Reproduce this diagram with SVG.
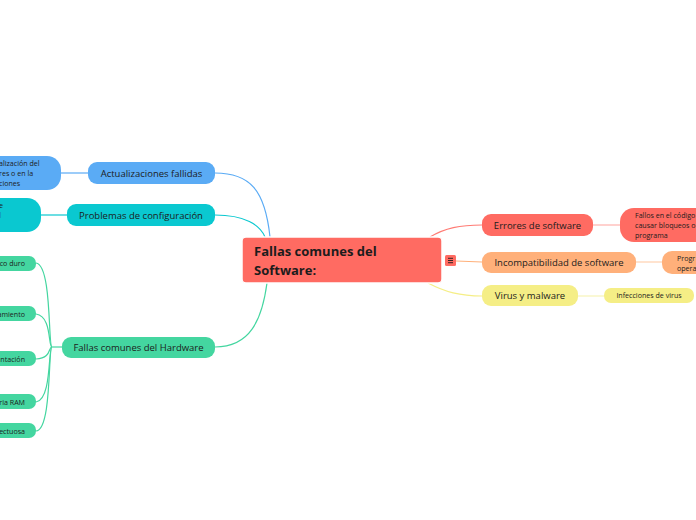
<svg xmlns="http://www.w3.org/2000/svg" width="696" height="520" viewBox="0 0 696 520">
<style>
text{font-family:"Open Sans","Noto Sans","Liberation Sans",sans-serif;fill:#1c1c1c}
.b{font-size:9.5px;text-anchor:middle}
.l{font-size:7.1px}
.lc{font-size:7.1px;text-anchor:middle}
.c{font-size:13px;font-weight:bold}
.cn{fill:none;stroke-width:1.2}
</style>
<rect width="696" height="520" fill="#ffffff"/>
<g id="connectors">
<path class="cn" stroke="#5aabf5" d="M215,173 C250,173 265,190 270,237"/>
<path class="cn" stroke="#0ac8d0" d="M215,215 C245,215 260,225 265,237"/>
<path class="cn" stroke="#44d6a0" d="M215,347 C250,347 262,320 267,283"/>
<path class="cn" stroke="#5aabf5" d="M61,173 L88,173"/>
<path class="cn" stroke="#0ac8d0" d="M41,215 L67,215"/>
<path class="cn" stroke="#44d6a0" d="M62,347 L52,347"/>
<path class="cn" stroke="#44d6a0" d="M52,347 C48,347 52,265 36,263"/>
<path class="cn" stroke="#44d6a0" d="M52,347 C48,347 52,316 36,314"/>
<path class="cn" stroke="#44d6a0" d="M52,347 C48,347 52,358 36,359"/>
<path class="cn" stroke="#44d6a0" d="M52,347 C48,347 52,400 36,402"/>
<path class="cn" stroke="#44d6a0" d="M52,347 C48,347 52,430 36,431"/>
<path class="cn" stroke="#ff7b74" d="M430,237 C445,228 460,225 482,225"/>
<path class="cn" stroke="#ffb07a" d="M456,261 L482,262"/>
<path class="cn" stroke="#f5ee86" d="M428,283 C445,292 460,296 482,296"/>
<path class="cn" stroke="#ffb3ae" d="M593,225 L620,225"/>
<path class="cn" stroke="#ffd0b0" d="M636,262 L662,262"/>
<path class="cn" stroke="#f7f3b8" d="M578,296 L604,296"/>
</g>
<g id="center">
<rect x="242" y="237" width="200" height="46" rx="4" fill="#ff6b62" stroke="#ffffff" stroke-width="1.5"/>
<text class="c" x="254" y="256">Fallas comunes del</text>
<text class="c" x="254" y="275">Software:</text>
</g>
<g id="icon">
<rect x="445" y="255" width="11" height="11" rx="1.5" fill="#ff6b62"/>
<path d="M448,258.3 H453 M448,260.5 H453 M448,262.7 H453" stroke="#1c1c1c" stroke-width="0.9"/>
</g>
<g id="actualizaciones">
<rect x="88" y="162" width="127" height="22" rx="9" fill="#5aabf5"/>
<text class="b" x="151.5" y="176.5">Actualizaciones fallidas</text>
</g>
<g id="actualizaciones-leaf">
<rect x="-40" y="156" width="101" height="34" rx="14" fill="#5aabf5"/>
<text class="l" x="-1" y="166">alización del</text>
<text class="l" x="-1" y="176">res o en la</text>
<text class="l" x="-1" y="186">ciones</text>
</g>
<g id="configuracion">
<rect x="67" y="204" width="148" height="22" rx="9" fill="#0ac8d0"/>
<text class="b" x="141" y="218.5">Problemas de configuración</text>
</g>
<g id="configuracion-leaf">
<rect x="-40" y="198" width="81" height="34" rx="14" fill="#0ac8d0"/>
<text class="l" x="-1" y="208">e</text>
<text class="l" x="-1" y="218">l</text>
</g>
<g id="hardware">
<rect x="62" y="337" width="153" height="21" rx="9" fill="#44d6a0"/>
<text class="b" x="138.5" y="351">Fallas comunes del Hardware</text>
</g>
<g id="hw-leaf-1">
<rect x="-40" y="256" width="76" height="15" rx="7" fill="#44d6a0"/>
<text class="l" x="25" y="266" text-anchor="end">co duro</text>
</g>
<g id="hw-leaf-2">
<rect x="-40" y="306" width="76" height="15" rx="7" fill="#44d6a0"/>
<text class="l" x="25" y="316.5" text-anchor="end">amiento</text>
</g>
<g id="hw-leaf-3">
<rect x="-40" y="351" width="76" height="15" rx="7" fill="#44d6a0"/>
<text class="l" x="25" y="361.5" text-anchor="end">ntación</text>
</g>
<g id="hw-leaf-4">
<rect x="-40" y="394" width="76" height="15" rx="7" fill="#44d6a0"/>
<text class="l" x="25" y="404.5" text-anchor="end">ria RAM</text>
</g>
<g id="hw-leaf-5">
<rect x="-40" y="423" width="76" height="15" rx="7" fill="#44d6a0"/>
<text class="l" x="25" y="433.5" text-anchor="end">ectuosa</text>
</g>
<g id="errores">
<rect x="482" y="214" width="111" height="22" rx="9" fill="#ff6b62"/>
<text class="b" x="537.5" y="228.5">Errores de software</text>
</g>
<g id="errores-leaf">
<rect x="620" y="208" width="110" height="34" rx="14" fill="#ff6b62"/>
<text class="l" x="635" y="218">Fallos en el código</text>
<text class="l" x="635" y="228">causar bloqueos o</text>
<text class="l" x="635" y="238">programa</text>
</g>
<g id="incompatibilidad">
<rect x="482" y="252" width="154" height="21" rx="9" fill="#ffb07a"/>
<text class="b" x="559" y="266">Incompatibilidad de software</text>
</g>
<g id="incompatibilidad-leaf">
<rect x="662" y="251" width="70" height="23" rx="10" fill="#ffb07a"/>
<text class="l" x="677" y="261">Progr</text>
<text class="l" x="677" y="271">opera</text>
</g>
<g id="virus">
<rect x="482" y="285" width="96" height="21" rx="9" fill="#f5ee86"/>
<text class="b" x="530" y="299">Virus y malware</text>
</g>
<g id="virus-leaf">
<rect x="604" y="288" width="90" height="15" rx="7" fill="#f5ee86"/>
<text class="lc" x="649" y="298">Infecciones de virus</text>
</g>
</svg>
